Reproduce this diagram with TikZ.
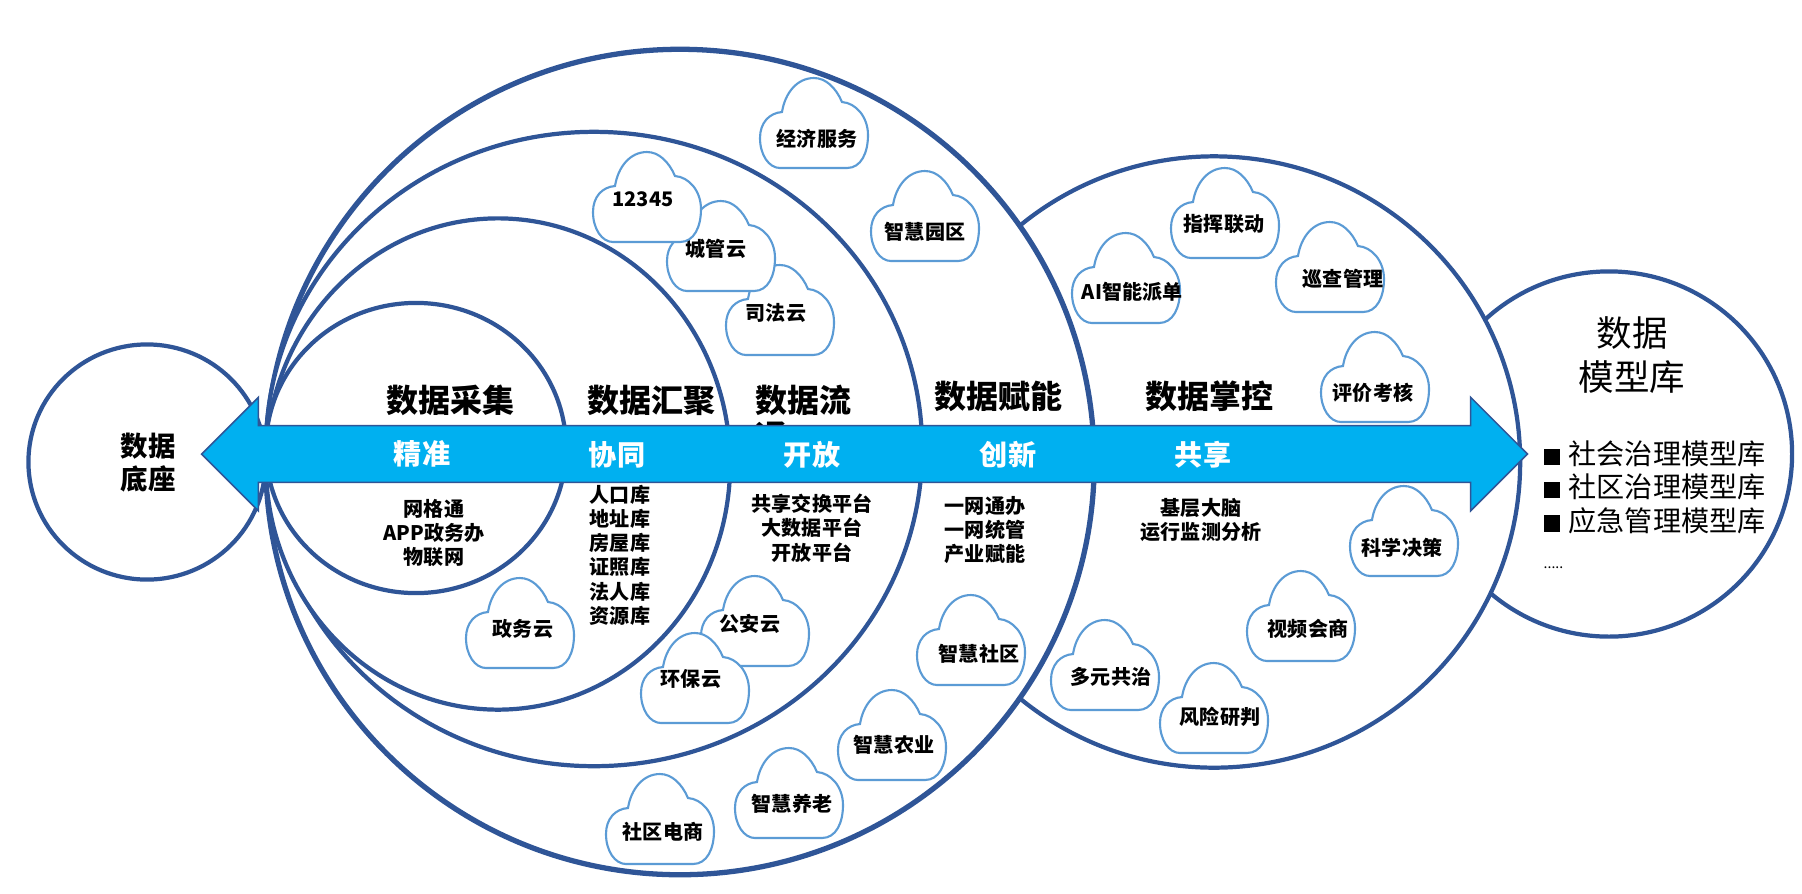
\documentclass[tikz,border=0pt]{standalone}
\usepackage{fontspec}
\setmainfont{Noto Sans CJK SC}
\usetikzlibrary{shapes.geometric,shapes.arrows}
\definecolor{ringblue}{HTML}{2F5597}
\definecolor{cloudblue}{HTML}{5B9BD5}
\definecolor{flowblue}{HTML}{00B0F0}
\tikzstyle{ring}=[ellipse,line width=1.2pt,draw=ringblue,fill=white,inner sep=0pt,outer sep=0pt]
\tikzstyle{head}=[font=\fontsize{9.1}{11.4}\selectfont\bfseries,inner sep=0pt]
\tikzstyle{tag}=[font=\fontsize{8}{10}\selectfont\bfseries,text=white,inner sep=0pt]
\tikzstyle{lst}=[font=\fontsize{5.7}{6.9}\selectfont\bfseries,align=center,inner sep=0pt]
\tikzstyle{cl}=[font=\fontsize{5.7}{6.9}\selectfont\bfseries,inner sep=0pt]
\tikzset{
	flow/.style={double arrow,double arrow head extend=0.285cm,minimum height=13.25cm,inner xsep=0pt,inner ysep=0.275cm,outer sep=0pt,draw=ringblue,line width=0.45pt,fill=flowblue},
	cloudbox/.pic={\draw[cloudblue,line width=0.6pt,fill=white] (-34,45) -- (33,45) .. controls (47,45) and (54,30) .. (54,12) .. controls (54,-6) and (42,-20) .. (28,-21) .. controls (22,-35) and (12,-45) .. (0,-45) .. controls (-17,-45) and (-29,-30) .. (-32,-11) .. controls (-45,-10) and (-54,0) .. (-54,15) .. controls (-54,32) and (-45,45) .. (-34,45) -- cycle;}
}
\newcommand{\bsq}{\rule[-0.1pt]{4.6pt}{4.6pt}\hspace{2.5pt}}
\begin{document}
\begin{tikzpicture}[x=0.01cm,y=-0.01cm]
    \useasboundingbox (0,0) rectangle (1802,893);
    \node (base) [ring,minimum width=2.37cm,minimum height=2.35cm] at (147,462) {};
    \node (model) [ring,minimum width=3.66cm,minimum height=3.65cm] at (1609,454) {};
    \node (ctrl) [ring,minimum width=6.12cm,minimum height=6.11cm] at (1214,462) {};
    \node (enable) [ring,line width=1.5pt,minimum width=8.28cm,minimum height=8.25cm] at (680,462) {};
    \node (stream) [ring,minimum width=6.56cm,minimum height=6.34cm] at (594,449) {};
    \node (gather) [ring,minimum width=4.64cm,minimum height=4.91cm] at (498,464) {};
    \node (collect) [ring,minimum width=3.00cm,minimum height=2.90cm] at (416,448) {};

    \node (tbase) [font=\fontsize{7.8}{9.4}\selectfont\bfseries,align=center,inner sep=0pt] at (148,463) {数据\\底座};
    \node (tcollect) [head] at (450,400) {数据采集};
    \node (tgather) [head] at (651,400) {数据汇聚};
    \node (tstream) [head,align=left,anchor=north west] at (755,384) {数据流\\[-1pt]通};
    \node (tenable) [head] at (998,396) {数据赋能};
    \node (tctrl) [head] at (1209,396) {数据掌控};

    \pic at (814,123) {cloudbox};
    \node (jjfw) [cl] at (817,139) {经济服务};
    \pic at (925,216) {cloudbox};
    \node (zhyq) [cl] at (925,232) {智慧园区};
    \pic at (780,310) {cloudbox};
    \node (sfy) [cl] at (776,313) {司法云};
    \pic at (721,246) {cloudbox};
    \node (cgy) [cl] at (716,249) {城管云};
    \pic at (647,197) {cloudbox};
    \node (hot) [cl] at (643,199) {12345};
    \pic at (520,623) {cloudbox};
    \node (zwy) [cl] at (523,629) {政务云};
    \pic at (755,621) {cloudbox};
    \node (gay) [cl] at (750,624) {公安云};
    \pic at (695,678) {cloudbox};
    \node (hby) [cl] at (691,679) {环保云};
    \pic at (971,640) {cloudbox};
    \node (zhsq) [cl] at (979,654) {智慧社区};
    \pic at (892,735) {cloudbox};
    \node (zhny) [cl] at (894,745) {智慧农业};
    \pic at (789,793) {cloudbox};
    \node (zhyl) [cl] at (792,804) {智慧养老};
    \pic at (660,819) {cloudbox};
    \node (sqds) [cl] at (663,832) {社区电商};
    \pic at (1105,665) {cloudbox};
    \node (dygz) [cl] at (1111,677) {多元共治};
    \pic at (1214,708) {cloudbox};
    \node (fxyp) [cl] at (1220,717) {风险研判};
    \pic at (1301,616) {cloudbox};
    \node (sphs) [cl] at (1308,629) {视频会商};
    \pic at (1404,531) {cloudbox};
    \node (kxjc) [cl] at (1402,548) {科学决策};
    \pic at (1375,377) {cloudbox};
    \node (pjkh) [cl] at (1373,393) {评价考核};
    \pic at (1330,267) {cloudbox};
    \node (xcgl) [cl] at (1343,279) {巡查管理};
    \pic at (1225,213) {cloudbox};
    \node (zhld) [cl] at (1224,224) {指挥联动};
    \pic at (1126,278) {cloudbox};
    \node (aipd) [cl] at (1132,292) {AI智能派单};

    \node (arrow) [flow] at (864.5,454) {};
    \node (t1) [tag] at (422,454) {精准};
    \node (t2) [tag] at (617,455) {协同};
    \node (t3) [tag] at (812,455) {开放};
    \node (t4) [tag] at (1008,455) {创新};
    \node (t5) [tag] at (1203,455) {共享};

    \node (l1) [lst] at (434,533) {网格通\\APP政务办\\物联网};
    \node (l2) [lst] at (620,555) {人口库\\地址库\\房屋库\\证照库\\法人库\\资源库};
    \node (l3) [lst] at (812,528) {共享交换平台\\大数据平台\\开放平台};
    \node (l4) [lst] at (985,530) {一网通办\\一网统管\\产业赋能};
    \node (l5) [lst] at (1201,520) {基层大脑\\运行监测分析};

    \node (tmodel) [font=\fontsize{10.1}{12.5}\selectfont,align=center,inner sep=0pt] at (1632,355) {数据\\模型库};
    \node (lmodel) [font=\fontsize{8}{9.5}\selectfont,align=left,anchor=north west,inner sep=0pt] at (1543,440) {\bsq 社会治理模型库\\\bsq 社区治理模型库\\\bsq 应急管理模型库\\[1pt]{\fontsize{4}{5}\selectfont .....}};
\end{tikzpicture}
\end{document}
